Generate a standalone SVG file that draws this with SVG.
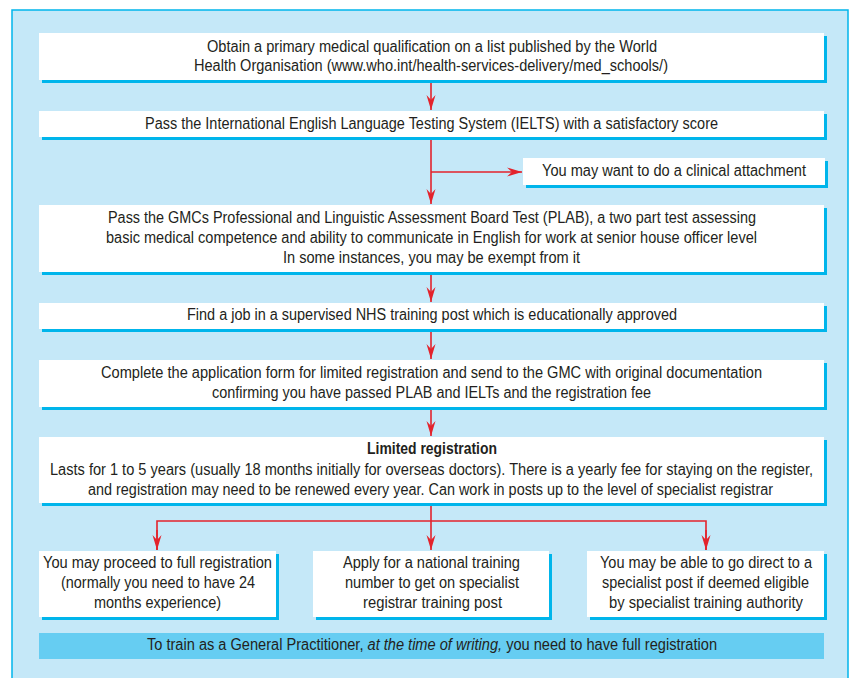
<svg xmlns="http://www.w3.org/2000/svg" width="854" height="678" viewBox="0 0 854 678">
<style>
.box{fill:#ffffff}
.sh{fill:#00b5eb}
.t{font-family:"Liberation Sans Narrow","Liberation Sans",Arial,sans-serif;font-size:16px;fill:#231f20;text-anchor:middle}
.s{text-anchor:start}
.b{font-weight:bold}
.i{font-style:italic}
.c{stroke:#e3232c;stroke-width:1.6;fill:none}
</style>
<defs>
<marker id="ah" markerUnits="userSpaceOnUse" markerWidth="16" markerHeight="10" viewBox="-15 -5 16 10" refX="0" refY="0" orient="auto">
<path d="M0,0 L-15,-4.5 L-10,0 L-15,4.5 Z" fill="#e3232c"/>
</marker>
</defs>
<rect x="12" y="10" width="836" height="680" fill="#c5e8f8" stroke="#00b5eb" stroke-width="1.5"/>
<g id="connectors">
<path class="c" d="M431,83 V110" marker-end="url(#ah)"/>
<path class="c" d="M431,138 V204" marker-end="url(#ah)"/>
<path class="c" d="M431,172 H522" marker-end="url(#ah)"/>
<path class="c" d="M431,272 V302" marker-end="url(#ah)"/>
<path class="c" d="M431,329 V359" marker-end="url(#ah)"/>
<path class="c" d="M431,407 V436" marker-end="url(#ah)"/>
<path class="c" d="M431,503 V550" marker-end="url(#ah)"/>
<path class="c" d="M157,550 V521 H706 V550" />
<path class="c" d="M157,530 V550" marker-end="url(#ah)"/>
<path class="c" d="M706,530 V550" marker-end="url(#ah)"/>
</g>
<g id="n1">
<rect class="sh" x="42" y="36" width="785" height="47"/>
<rect class="box" x="39" y="33" width="785" height="47"/>
<text class="t" x="432" y="52" textLength="450" lengthAdjust="spacingAndGlyphs">Obtain a primary medical qualification on a list published by the World</text>
<text class="t" x="431" y="71" textLength="474" lengthAdjust="spacingAndGlyphs">Health Organisation (www.who.int/health-services-delivery/med_schools/)</text>
</g>
<g id="n2">
<rect class="sh" x="42" y="114" width="785" height="26"/>
<rect class="box" x="39" y="111" width="785" height="26"/>
<text class="t" x="431.5" y="129" textLength="573" lengthAdjust="spacingAndGlyphs">Pass the International English Language Testing System (IELTS) with a satisfactory score</text>
</g>
<g id="n3">
<rect class="sh" x="526" y="161" width="302" height="27"/>
<rect class="box" x="523" y="158" width="302" height="27"/>
<text class="t" x="674" y="176" textLength="264" lengthAdjust="spacingAndGlyphs">You may want to do a clinical attachment</text>
</g>
<g id="n4">
<rect class="sh" x="42" y="208" width="785" height="67"/>
<rect class="box" x="39" y="205" width="785" height="67"/>
<text class="t" x="432" y="223" textLength="648" lengthAdjust="spacingAndGlyphs">Pass the GMCs Professional and Linguistic Assessment Board Test (PLAB), a two part test assessing</text>
<text class="t" x="431.5" y="243" textLength="651" lengthAdjust="spacingAndGlyphs">basic medical competence and ability to communicate in English for work at senior house officer level</text>
<text class="t" x="431.5" y="263" textLength="297" lengthAdjust="spacingAndGlyphs">In some instances, you may be exempt from it</text>
</g>
<g id="n5">
<rect class="sh" x="42" y="306" width="785" height="26"/>
<rect class="box" x="39" y="303" width="785" height="26"/>
<text class="t" x="432" y="320" textLength="490" lengthAdjust="spacingAndGlyphs">Find a job in a supervised NHS training post which is educationally approved</text>
</g>
<g id="n6">
<rect class="sh" x="42" y="363" width="785" height="47"/>
<rect class="box" x="39" y="360" width="785" height="47"/>
<text class="t" x="431.5" y="378" textLength="661" lengthAdjust="spacingAndGlyphs">Complete the application form for limited registration and send to the GMC with original documentation</text>
<text class="t" x="431.5" y="398" textLength="439" lengthAdjust="spacingAndGlyphs">confirming you have passed PLAB and IELTs and the registration fee</text>
</g>
<g id="n7">
<rect class="sh" x="42" y="440" width="785" height="66"/>
<rect class="box" x="39" y="437" width="785" height="66"/>
<text class="t b" x="432" y="454" textLength="130" lengthAdjust="spacingAndGlyphs">Limited registration</text>
<text class="t" x="431.5" y="475" textLength="763" lengthAdjust="spacingAndGlyphs">Lasts for 1 to 5 years (usually 18 months initially for overseas doctors). There is a yearly fee for staying on the register,</text>
<text class="t" x="430.5" y="495" textLength="685" lengthAdjust="spacingAndGlyphs">and registration may need to be renewed every year. Can work in posts up to the level of specialist registrar</text>
</g>
<g id="n8">
<rect class="sh" x="42" y="554" width="237" height="66"/>
<rect class="box" x="39" y="551" width="237" height="66"/>
<text class="t" x="157.5" y="568" textLength="229" lengthAdjust="spacingAndGlyphs">You may proceed to full registration</text>
<text class="t" x="158" y="588" textLength="194" lengthAdjust="spacingAndGlyphs">(normally you need to have 24</text>
<text class="t" x="157.5" y="608" textLength="127" lengthAdjust="spacingAndGlyphs">months experience)</text>
</g>
<g id="n9">
<rect class="sh" x="316" y="554" width="236" height="66"/>
<rect class="box" x="313" y="551" width="236" height="66"/>
<text class="t" x="431.5" y="568" textLength="177" lengthAdjust="spacingAndGlyphs">Apply for a national training</text>
<text class="t" x="432" y="588" textLength="174" lengthAdjust="spacingAndGlyphs">number to get on specialist</text>
<text class="t" x="432.5" y="608" textLength="139" lengthAdjust="spacingAndGlyphs">registrar training post</text>
</g>
<g id="n10">
<rect class="sh" x="590" y="554" width="237" height="66"/>
<rect class="box" x="587" y="551" width="237" height="66"/>
<text class="t" x="706" y="568" textLength="212" lengthAdjust="spacingAndGlyphs">You may be able to go direct to a</text>
<text class="t" x="705.5" y="588" textLength="207" lengthAdjust="spacingAndGlyphs">specialist post if deemed eligible</text>
<text class="t" x="706" y="608" textLength="194" lengthAdjust="spacingAndGlyphs">by specialist training authority</text>
</g>
<g id="n11">
<rect x="39" y="633" width="785" height="26" fill="#66cdf2"/>
<text class="t" x="432" y="650" textLength="570" lengthAdjust="spacingAndGlyphs">To train as a General Practitioner, <tspan class="i">at the time of writing,</tspan> you need to have full registration</text>
</g>
</svg>
